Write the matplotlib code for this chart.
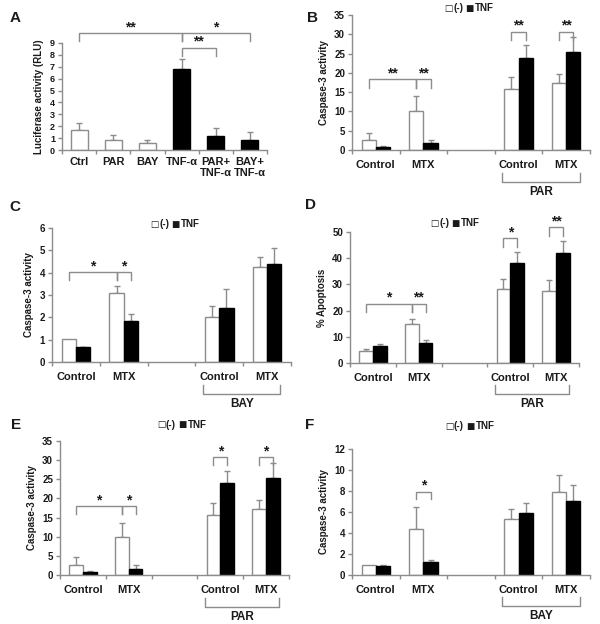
import matplotlib
matplotlib.use("Agg")
import matplotlib.pyplot as plt
from matplotlib.transforms import blended_transform_factory

plt.rcParams['font.family'] = ['Liberation Sans', 'DejaVu Sans']
plt.rcParams['font.weight'] = 'bold'

W, H = 600, 624
GRAY = '#8c8c8c'
TXT = '#1a1a1a'

# ---------------- data ----------------
a_labels = ["Ctrl", "PAR", "BAY", "TNF-α", "PAR+\nTNF-α", "BAY+\nTNF-α"]
a_values = [1.65, 0.88, 0.55, 6.8, 1.15, 0.88]
a_errors = [0.58, 0.35, 0.28, 0.87, 0.67, 0.6]
a_colors = ['white', 'white', 'white', 'black', 'black', 'black']

group_labels = ["Control", "MTX", "", "Control", "MTX"]

b_neg = [2.7, 10.0, None, 15.9, 17.3]
b_neg_err = [1.8, 3.9, None, 3.0, 2.4]
b_tnf = [0.7, 1.7, None, 23.9, 25.4]
b_tnf_err = [0.4, 0.9, None, 3.4, 3.9]

c_neg = [1.03, 3.1, None, 2.0, 4.27]
c_neg_err = [0.0, 0.29, None, 0.5, 0.43]
c_tnf = [0.65, 1.85, None, 2.42, 4.38]
c_tnf_err = [0.03, 0.29, None, 0.86, 0.72]

d_neg = [4.6, 14.8, None, 28.3, 27.4]
d_neg_err = [0.8, 1.9, None, 3.6, 4.2]
d_tnf = [6.5, 7.6, None, 38.3, 42.1]
d_tnf_err = [0.9, 1.3, None, 4.2, 4.6]

e_neg = [2.6, 10.0, None, 15.8, 17.2]
e_neg_err = [2.0, 3.7, None, 3.1, 2.5]
e_tnf = [0.7, 1.65, None, 23.9, 25.4]
e_tnf_err = [0.3, 0.95, None, 3.3, 3.9]

f_neg = [1.0, 4.34, None, 5.3, 7.88]
f_neg_err = [0.0, 2.1, None, 0.96, 1.63]
f_tnf = [0.83, 1.21, None, 5.87, 7.09]
f_tnf_err = [0.15, 0.26, None, 0.96, 1.46]

fig = plt.figure(figsize=(W / 100, H / 100), dpi=100)
fig.patch.set_facecolor('white')


def make_axes(x0, x1, ytop, ybot):
    return fig.add_axes([x0 / W, 1 - ybot / H, (x1 - x0) / W, (ybot - ytop) / H])


def style(ax, ymax, ystep, n, labels, ylabel, tickfs=7):
    for s in ['top', 'right']:
        ax.spines[s].set_visible(False)
    for s in ['left', 'bottom']:
        ax.spines[s].set_color(GRAY)
        ax.spines[s].set_linewidth(1.0)
    ax.set_xlim(-0.5, n - 0.5)
    ax.set_ylim(0, ymax)
    ax.set_yticks(range(0, ymax + 1, ystep))
    ax.tick_params(axis='y', length=3, color=GRAY, width=1, labelsize=tickfs,
                   labelcolor=TXT, pad=2)
    ax.set_xticks([i - 0.5 for i in range(n + 1)])
    ax.set_xticklabels([])
    ax.tick_params(axis='x', which='major', length=3, color=GRAY, width=1)
    ax.set_xticks(range(n), minor=True)
    ax.set_xticklabels(labels, minor=True, fontsize=8, fontweight='bold', color=TXT)
    ax.tick_params(axis='x', which='minor', length=0, pad=7)
    ax.set_ylabel(ylabel, fontsize=7, fontweight='bold', color=TXT, labelpad=4)


def bracket(ax, x1, x2, y, drop, label, fs=10):
    ax.plot([x1, x1, x2, x2], [y - drop, y, y, y - drop], color=GRAY, lw=1,
            clip_on=False, solid_joinstyle='miter')
    ax.annotate(label, xy=((x1 + x2) / 2, y), xytext=(0, 4.2), textcoords='offset points',
                ha='center', va='center', fontsize=fs, fontweight='bold', color=TXT,
                annotation_clip=False)


def group_bracket(ax, x1, x2, below_px, label, ax_h_px):
    tr = blended_transform_factory(ax.transData, ax.transAxes)
    yb = -below_px / ax_h_px
    yt = -(below_px - 9) / ax_h_px
    ax.plot([x1, x1, x2, x2], [yt, yb, yb, yt], color=GRAY, lw=1, transform=tr,
            clip_on=False)
    ax.text((x1 + x2) / 2, -(below_px + 10) / ax_h_px, label, transform=tr,
            ha='center', va='center', fontsize=8.5, fontweight='bold', color=TXT)


def grouped(ax, neg, neg_err, tnf, tnf_err, w=0.3):
    for i in range(len(neg)):
        if neg[i] is None:
            continue
        ax.bar(i - w / 2, neg[i], w, color='white', edgecolor=GRAY, linewidth=1, zorder=2)
        ax.bar(i + w / 2, tnf[i], w, color='black', edgecolor='black', linewidth=1, zorder=2)
        if neg_err[i] > 0:
            ax.errorbar(i - w / 2, neg[i], yerr=[[0], [neg_err[i]]], color=GRAY,
                        capsize=2.5, elinewidth=1, capthick=1, zorder=1)
        if tnf_err[i] > 0:
            ax.errorbar(i + w / 2, tnf[i], yerr=[[0], [tnf_err[i]]], color=GRAY,
                        capsize=2.5, elinewidth=1, capthick=1, zorder=1)


def legend(x, y):
    # x is the legend's centre in pixels
    left = x - 24
    yy = 1 - y / H
    fig.text(left / W, yy, "□", ha='left', va='center', fontsize=6.3,
             family='DejaVu Sans', color=TXT)
    fig.text((left + 9) / W, yy, "(-)", ha='left', va='center', fontsize=7,
             fontweight='bold', color=TXT)
    fig.text((left + 21.5) / W, yy, "■", ha='left', va='center', fontsize=6.3,
             family='DejaVu Sans', color=TXT)
    fig.text((left + 30.5) / W, yy, "TNF", ha='left', va='center', fontsize=7,
             fontweight='bold', color=TXT)


def letter(x, y, s):
    fig.text(x / W, 1 - y / H, s, ha='center', va='center', fontsize=11,
             fontweight='bold', color=TXT)


# ---------------- Panel A ----------------
axA = make_axes(62, 267, 43, 150)
style(axA, 9, 1, 6, a_labels, "Luciferase activity (RLU)", tickfs=6.5)
axA.tick_params(axis='x', which='minor', pad=5)
for lab in axA.get_xticklabels(minor=True):
    lab.set_va('top')
    lab.set_linespacing(1.1)
for i in range(6):
    axA.bar(i, a_values[i], 0.5, color=a_colors[i],
            edgecolor=GRAY if a_colors[i] == 'white' else 'black', linewidth=1, zorder=2)
    axA.errorbar(i, a_values[i], yerr=[[0], [a_errors[i]]], color=GRAY, capsize=2.5,
                 elinewidth=1, capthick=1, zorder=1)
bracket(axA, 0, 3, 9.83, 0.7, "**")
bracket(axA, 3, 5, 9.83, 0.7, "*")
bracket(axA, 3, 4, 8.6, 0.72, "**")
letter(15, 18, "A")

w = 0.3
# ---------------- Panel B ----------------
axB = make_axes(352, 590, 15, 150)
style(axB, 35, 5, 5, group_labels, "Caspase-3 activity")
grouped(axB, b_neg, b_neg_err, b_tnf, b_tnf_err)
bracket(axB, -w / 2, 1 - w / 2, 18.3, 2.2, "**")
bracket(axB, 1 - w / 2, 1 + w / 2, 18.3, 2.2, "**")
bracket(axB, 3 - w / 2, 3 + w / 2, 30.7, 2.2, "**")
bracket(axB, 4 - w / 2, 4 + w / 2, 30.7, 2.2, "**")
group_bracket(axB, 2.66, 4.28, 32, "PAR", 135)
legend(468, 8)
letter(312, 18, "B")

# ---------------- Panel C ----------------
axC = make_axes(52, 291, 228, 362)
style(axC, 6, 1, 5, group_labels, "Caspase-3 activity")
grouped(axC, c_neg, c_neg_err, c_tnf, c_tnf_err)
bracket(axC, -w / 2, 1 - w / 2, 4.01, 0.33, "*")
bracket(axC, 1 - w / 2, 1 + w / 2, 4.01, 0.33, "*")
group_bracket(axC, 2.66, 4.28, 32, "BAY", 134)
legend(174, 224)
letter(15, 207, "C")

# ---------------- Panel D ----------------
axD = make_axes(350, 579, 232, 363)
style(axD, 50, 10, 5, group_labels, "% Apoptosis")
grouped(axD, d_neg, d_neg_err, d_tnf, d_tnf_err)
bracket(axD, -w / 2, 1 - w / 2, 22.7, 3.2, "*")
bracket(axD, 1 - w / 2, 1 + w / 2, 22.7, 3.2, "**")
bracket(axD, 3 - w / 2, 3 + w / 2, 47.6, 3.2, "*")
bracket(axD, 4 - w / 2, 4 + w / 2, 51.8, 3.2, "**")
group_bracket(axD, 2.66, 4.28, 31, "PAR", 131)
legend(454, 223)
letter(310, 205, "D")

# ---------------- Panel E ----------------
axE = make_axes(60, 289, 441, 575)
style(axE, 35, 5, 5, group_labels, "Caspase-3 activity")
grouped(axE, e_neg, e_neg_err, e_tnf, e_tnf_err)
bracket(axE, -w / 2, 1 - w / 2, 18.0, 2.1, "*")
bracket(axE, 1 - w / 2, 1 + w / 2, 18.0, 2.1, "*")
bracket(axE, 3 - w / 2, 3 + w / 2, 30.8, 2.1, "*")
bracket(axE, 4 - w / 2, 4 + w / 2, 30.8, 2.1, "*")
group_bracket(axE, 2.66, 4.28, 32, "PAR", 134)
legend(181, 425)
letter(16, 425, "E")

# ---------------- Panel F ----------------
axF = make_axes(352, 590, 449, 575)
style(axF, 12, 2, 5, group_labels, "Caspase-3 activity")
grouped(axF, f_neg, f_neg_err, f_tnf, f_tnf_err)
bracket(axF, 1 - w / 2, 1 + w / 2, 7.95, 0.75, "*")
group_bracket(axF, 2.66, 4.28, 31, "BAY", 126)
legend(469, 426)
letter(310, 425, "F")

fig.savefig("out.png", dpi=100, facecolor='white')
